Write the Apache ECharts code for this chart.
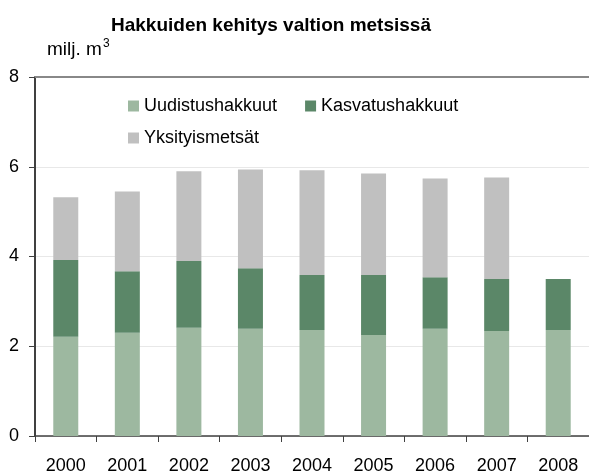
<!DOCTYPE html>
<html>
<head>
<meta charset="utf-8">
<script src="https://cdn.jsdelivr.net/npm/echarts@6/dist/echarts.min.js"></script>
<style>
  html, body { margin: 0; padding: 0; background: #fff; }
  #chart { width: 589px; height: 475px; }
</style>
</head>
<body>
<div id="chart"></div>
<script>
// vuodet
const years = ['2000', '2001', '2002', '2003', '2004', '2005', '2006', '2007', '2008']
// milj. m3
const uudistus = [2.21, 2.30, 2.41, 2.39, 2.36, 2.25, 2.39, 2.34, 2.36]
const kasvatus = [1.71, 1.37, 1.49, 1.35, 1.23, 1.34, 1.15, 1.16, 1.14]
const yksityis = [1.40, 1.78, 2.00, 2.20, 2.33, 2.26, 2.20, 2.26, '-']
const yTicks = [0, 2, 4, 6, 8]

const font = '"Liberation Sans", Arial, sans-serif'
const colors = ['#9db8a0', '#5b8768', '#c0c0c0']

const chart = echarts.init(document.getElementById('chart'))

const option = {
  animation: false,
  textStyle: { fontFamily: font },
  title: {
    text: 'Hakkuiden kehitys valtion metsissä',
    left: 106,
    top: 11,
    textStyle: { fontSize: 19, fontWeight: 'bold', color: '#000', fontFamily: font }
  },
  graphic: [{
    type: 'text',
    left: 47,
    top: 38,
    style: {
      text: 'milj. m{sup|3}',
      fontSize: 19,
      fontFamily: font,
      fill: '#000',
      rich: { sup: { fontSize: 12, verticalAlign: 'top', padding: [0, 0, 12, 1], fontFamily: font } }
    }
  }],
  legend: [
    {
      data: ['Uudistushakkuut', 'Kasvatushakkuut'],
      left: 123,
      top: 92,
      itemWidth: 11,
      itemHeight: 11,
      itemGap: 28,
      icon: 'rect',
      textStyle: { fontSize: 18, color: '#000', fontFamily: font }
    },
    {
      data: ['Yksityismetsät'],
      left: 123,
      top: 124,
      itemWidth: 11,
      itemHeight: 11,
      icon: 'rect',
      textStyle: { fontSize: 18, color: '#000', fontFamily: font }
    }
  ],
  grid: { left: 35, right: 0, top: 77, bottom: 37, containLabel: false },
  xAxis: [
    {
      type: 'category',
      data: years,
      axisLine: { lineStyle: { color: '#404040', width: 1.5 } },
      axisTick: { show: true, length: 6, lineStyle: { color: '#404040' } },
      axisLabel: { color: '#000', fontSize: 18, margin: 21, fontFamily: font }
    },
    {
      // ylin reunaviiva
      type: 'category',
      data: years,
      position: 'top',
      axisLine: { lineStyle: { color: '#888', width: 2 } },
      axisTick: { show: false },
      axisLabel: { show: false }
    }
  ],
  yAxis: {
    type: 'value',
    min: yTicks[0],
    max: yTicks[yTicks.length - 1],
    interval: 2,
    axisLine: { show: true, lineStyle: { color: '#404040', width: 2 } },
    axisTick: { show: true, length: 6, lineStyle: { color: '#404040' } },
    axisLabel: { color: '#000', fontSize: 18, margin: 16, fontFamily: font },
    splitLine: { lineStyle: { color: '#e8e8e8', width: 1 } }
  },
  series: [
    { name: 'Uudistushakkuut', type: 'bar', stack: 'h', data: uudistus, barWidth: 25, itemStyle: { color: colors[0] } },
    { name: 'Kasvatushakkuut', type: 'bar', stack: 'h', data: kasvatus, barWidth: 25, itemStyle: { color: colors[1] } },
    { name: 'Yksityismetsät', type: 'bar', stack: 'h', data: yksityis, barWidth: 25, itemStyle: { color: colors[2] } }
  ]
}

chart.setOption(option)
</script>
</body>
</html>
